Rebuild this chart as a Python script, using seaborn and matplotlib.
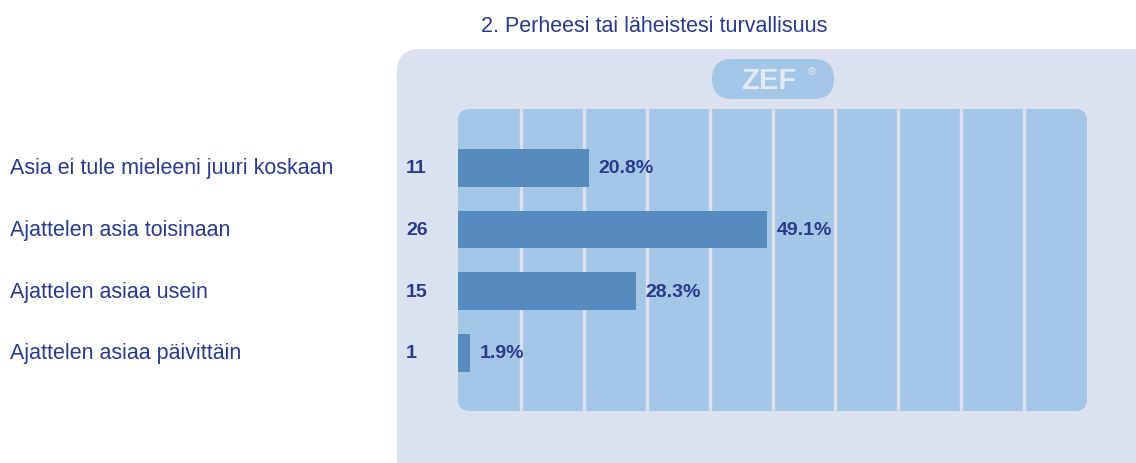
import matplotlib
matplotlib.use("Agg")
import matplotlib.pyplot as plt
import matplotlib.transforms as mtransforms
from matplotlib.patches import FancyBboxPatch
import seaborn as sns
import pandas as pd

# Datos
otsikko = "2. Perheesi tai läheistesi turvallisuus"
vaihtoehdot = [
    "Asia ei tule mieleeni juuri koskaan",
    "Ajattelen asia toisinaan",
    "Ajattelen asiaa usein",
    "Ajattelen asiaa päivittäin",
]
lukumaarat = [11, 26, 15, 1]
prosentit = [20.8, 49.1, 28.3, 1.9]

# Värit
PANEELI = "#dbe1ef"
SISA = "#a5c7e7"
PALKKI = "#558bbf"
TEKSTI = "#2a3a8c"

sns.set_theme(style="white")
plt.rcParams["font.family"] = ["Liberation Sans", "DejaVu Sans"]

df = pd.DataFrame({"vaihtoehto": vaihtoehdot, "prosentti": prosentit})

W, H = 1136, 464
fig = plt.figure(figsize=(W / 100, H / 100), dpi=100)
fig.patch.set_facecolor("white")

# Ulompi paneeli
ulompi = FancyBboxPatch((397 / W, -0.05), (W - 397 + 40) / W, (464 - 50) / H + 0.05,
                        boxstyle="round,pad=0,rounding_size=0.02",
                        transform=fig.transFigure, facecolor=PANEELI, edgecolor="none",
                        mutation_aspect=W / H, zorder=-2)
fig.patches.append(ulompi)

# ZEF-logo
logo = FancyBboxPatch((712 / W, 1 - 100 / H), 122 / W, 40 / H,
                      boxstyle="round,pad=0,rounding_size=0.0176",
                      transform=fig.transFigure, facecolor=SISA, edgecolor="none",
                      mutation_aspect=W / H, zorder=-1)
fig.patches.append(logo)
fig.text(769 / W, 1 - 81 / H, "ZEF", color="#e3e9f5", fontsize=21, fontweight="bold",
         ha="center", va="center")
fig.text(812 / W, 1 - 72 / H, "®", color="#e3e9f5", fontsize=8, ha="center", va="center")

# Kuvaaja-alue
x0, y0, x1, y1 = 458, 110, 1087, 412
ax = fig.add_axes([x0 / W, 1 - y1 / H, (x1 - x0) / W, (y1 - y0) / H])
ax.set_facecolor("none")
tausta = FancyBboxPatch((0, 0), 1, 1, boxstyle="round,pad=0,rounding_size=0.018",
                        transform=ax.transAxes, facecolor=SISA, edgecolor="none",
                        mutation_aspect=(x1 - x0) / (y1 - y0), zorder=0)
ax.add_patch(tausta)

for gx in range(10, 100, 10):
    ax.axvline(gx, color=PANEELI, linewidth=2.4, zorder=1)

sns.barplot(data=df, x="prosentti", y="vaihtoehto", orient="h", color=PALKKI,
            width=0.61, saturation=1, linewidth=0, ax=ax, zorder=2)

ax.set_xlim(0, 100)
ax.set_ylim(3.94, -0.95)
ax.set_xticks([])
ax.set_yticks([])
ax.set_xlabel("")
ax.set_ylabel("")
for s in ax.spines.values():
    s.set_visible(False)

trans = mtransforms.blended_transform_factory(fig.transFigure, ax.transData)
for i, (nimi, n, p) in enumerate(zip(vaihtoehdot, lukumaarat, prosentit)):
    ax.text(10 / W, i, nimi, transform=trans, ha="left", va="center",
            fontsize=15.5, color=TEKSTI, clip_on=False)
    ax.text(406 / W, i, str(n), transform=trans, ha="left", va="center",
            fontsize=14, fontweight="bold", color=TEKSTI, clip_on=False)
    ax.annotate(f"{p}%", (p, i), xytext=(7, 0), textcoords="offset points",
                ha="left", va="center", fontsize=14, fontweight="bold", color=TEKSTI)

fig.text(654 / W, 1 - 27 / H, otsikko, ha="center", va="center", fontsize=15.5, color=TEKSTI)

fig.savefig("out.png", dpi=100, facecolor=fig.get_facecolor())
